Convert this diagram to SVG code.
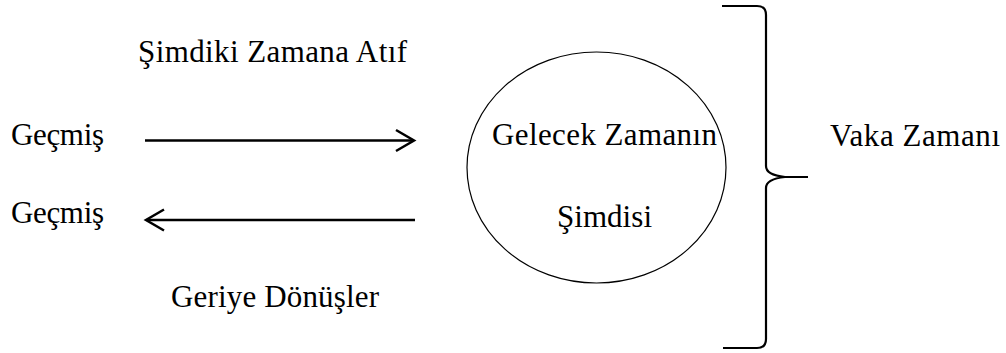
<svg xmlns="http://www.w3.org/2000/svg" width="1006" height="353" viewBox="0 0 1006 353">
<style>
text{font-family:'Liberation Serif','DejaVu Serif',serif;font-size:31px;fill:#000}
.ln{fill:none;stroke:#000;stroke-width:2.5;stroke-linecap:butt}
.head{fill:none;stroke:#000;stroke-width:2.5;stroke-linejoin:miter}
</style>
<rect width="1006" height="353" fill="#fff"/>
<g id="label-simdiki"><text x="138" y="62" textLength="269" lengthAdjust="spacing">Şimdiki Zamana Atıf</text></g>
<g id="gecmis-1"><text x="11" y="145" textLength="93" lengthAdjust="spacing">Geçmiş</text></g>
<g id="gecmis-2"><text x="11" y="223" textLength="93" lengthAdjust="spacing">Geçmiş</text></g>
<g id="label-geriye"><text x="171" y="307" textLength="208" lengthAdjust="spacing">Geriye Dönüşler</text></g>
<g id="circle-node">
<ellipse cx="596.5" cy="167.5" rx="129.5" ry="115.5" fill="none" stroke="#000" stroke-width="1.2"/>
<text x="492" y="145" textLength="225" lengthAdjust="spacing">Gelecek Zamanın</text>
<text x="557" y="227" textLength="95" lengthAdjust="spacing">Şimdisi</text>
</g>
<g id="vaka"><text x="830" y="146" textLength="170" lengthAdjust="spacing">Vaka Zamanı</text></g>
<g id="connectors">
<line class="ln" x1="145" y1="140.5" x2="412" y2="140.5"/>
<polyline class="head" points="396,130 414,140.5 396,151"/>
<line class="ln" x1="148" y1="220" x2="415" y2="220"/>
<polyline class="head" points="164,209.5 146,220 164,230.5"/>
</g>
<g id="brace">
<path d="M722,6 L757,6 Q766,6 766,15 L766,166 Q766,175 785,177 L808,177 M785,177 Q766,179 766,188 L766,339 Q766,348 757,348 L723,348" fill="none" stroke="#000" stroke-width="2.2"/>
</g>
</svg>
